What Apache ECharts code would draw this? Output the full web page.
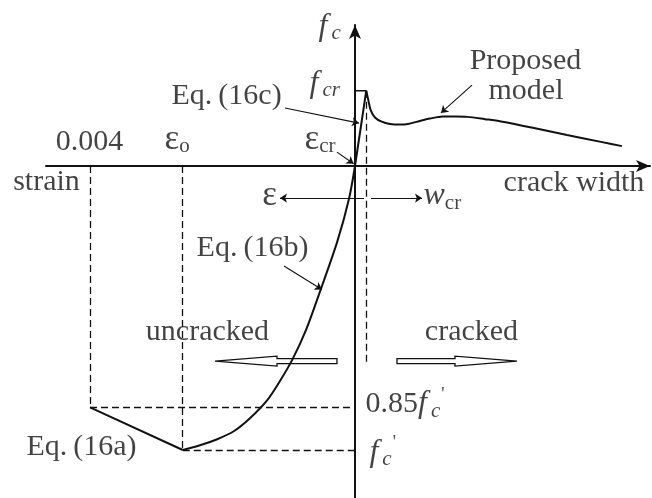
<!DOCTYPE html>
<html>
<head>
<meta charset="utf-8">
<script src="https://cdn.jsdelivr.net/npm/echarts@6/dist/echarts.min.js"></script>
<style>
  html, body { margin: 0; padding: 0; background: #fff; }
  #chart { width: 652px; height: 498px; }
</style>
</head>
<body>
<div id="chart"></div>
<script>
// Units: strain in per mille (compression to the left, negative),
// stress normalised by f'c (compression downward, negative).
const epsLimit = -4.0;      // 0.004
const eps0 = -2.6;          // εo, strain at peak compressive stress
const fcPeak = -1.0;        // f'c
const fcResidual = -0.85;   // 0.85 f'c
const epsCr = 0.17;         // εcr
const fCr = 0.265;          // fcr

// Eq. (16a): linear descending branch beyond εo
const eq16aX = [epsLimit, eps0];
const eq16aY = [fcResidual, fcPeak];

// Eq. (16b): ascending compression branch
const eq16bX = [-2.6, -2.34, -2.08, -1.83, -1.59, -1.33, -1.13, -0.94, -0.74, -0.53, -0.27, -0.09, 0];
const eq16bY = [-1.0, -0.983, -0.962, -0.934, -0.889, -0.826, -0.756, -0.679, -0.578, -0.443, -0.268, -0.115, 0];

// Eq. (16c): linear tension branch up to cracking
const eq16cX = [0, epsCr];
const eq16cY = [0, fCr];

// Proposed tension-softening model after cracking
const modelX = [0.17, 0.201, 0.237, 0.302, 0.403, 0.528, 0.679, 0.80, 0.951, 1.132, 1.328, 1.525, 1.691, 1.962, 2.204, 2.702, 3.2, 3.713, 4.03];
const modelY = [0.265, 0.232, 0.197, 0.171, 0.156, 0.148, 0.146, 0.148, 0.157, 0.167, 0.174, 0.174, 0.173, 0.165, 0.157, 0.134, 0.109, 0.085, 0.070];

// Dashed reference lines
const guideFrom = [[epsLimit, 0], [eps0, 0], [epsLimit, fcResidual], [eps0, fcPeak], [epsCr, fCr]];
const guideTo   = [[epsLimit, fcResidual], [eps0, fcPeak], [0, fcResidual], [0, fcPeak], [epsCr, -0.70]];

// Leader lines and direction arrows
const leaderFrom = [[-1.057, 0.204], [-0.272, 0.049], [-1.072, -0.352], [1.766, 0.285], [0.136, -0.113], [0.242, -0.113]];
const leaderTo   = [[0.060, 0.151], [-0.02, 0.008], [-0.50, -0.435], [1.298, 0.187], [-1.132, -0.113], [1.011, -0.113]];

// Hollow block arrows: [start x, y, tip x]
const blockArrows = [[-0.272, -0.687, -2.113], [0.634, -0.687, 2.445]];

// Annotation texts: [text, x, y, align]
const labelTexts = [
  ['{i|f}{isub|c}', -0.543, 0.490, 'left'],
  ['{i|f}{isub|cr}', -0.679, 0.289, 'left'],
  ['{r|Eq.}{p|(16c)}', -2.762, 0.246, 'left'],
  ['{e|ε}{sub|cr}', -0.755, 0.092, 'left'],
  ['{r|0.004}', -4.0, 0.081, 'center'],
  ['{e|ε}{sub|o}', -2.868, 0.092, 'left'],
  ['{r|strain}', -4.649, -0.060, 'center'],
  ['{r|crack width}', 3.313, -0.063, 'center'],
  ['{e|ε}', -1.283, -0.106, 'center'],
  ['{i|w}{sub|cr}', 1.042, -0.106, 'left'],
  ['{r|Eq.}{p|(16b)}', -1.540, -0.292, 'center'],
  ['{r|uncracked}', -2.219, -0.588, 'center'],
  ['{r|cracked}', 1.766, -0.588, 'center'],
  ['{r|0.85}{i|f}{isub|c}{sup|\'}', 0.166, -0.84, 'left'],
  ['{i|f}{isub|c}{sup|\'}', 0.226, -1.01, 'left'],
  ['{r|Proposed}', 2.581, 0.366, 'center'],
  ['{r|model}', 2.589, 0.261, 'center'],
  ['{r|Eq.}{p|(16a)}', -4.121, -0.993, 'center']
];

const ink = '#111';
const textInk = '#141414';
const serif = "'Liberation Serif', 'Times New Roman', serif";
const zip = (xs, ys) => xs.map((x, i) => [x, ys[i]]);

const rich = {
  r:    { fontFamily: serif, fontSize: 30, lineHeight: 36, color: textInk },
  p:    { fontFamily: serif, fontSize: 30, lineHeight: 36, color: textInk, padding: [0, 0, 0, 6] },
  e:    { fontFamily: serif, fontSize: 35, lineHeight: 36, color: textInk },
  i:    { fontFamily: serif, fontSize: 32, lineHeight: 36, fontStyle: 'italic', color: textInk },
  sub:  { fontFamily: serif, fontSize: 21, lineHeight: 20, verticalAlign: 'bottom', color: textInk },
  isub: { fontFamily: serif, fontSize: 21, lineHeight: 20, verticalAlign: 'bottom', fontStyle: 'italic', color: textInk, padding: [0, 0, 0, 4] },
  sup:  { fontFamily: serif, fontSize: 18, lineHeight: 20, verticalAlign: 'top', color: textInk, padding: [0, 0, 0, 1] }
};

const curve = (name, xs, ys, smooth, z) => ({
  name, type: 'line', data: zip(xs, ys), smooth,
  symbol: 'none', lineStyle: { color: ink, width: 2 }, z, silent: true
});

const chart = echarts.init(document.getElementById('chart'), null, { renderer: 'canvas' });
chart.setOption({
  animation: false,
  backgroundColor: '#fff',
  grid: { left: 46, right: 2, top: 25, bottom: 0, containLabel: false },
  xAxis: {
    type: 'value', min: -4.664, max: 4.453,
    axisLine: { onZero: true, symbol: ['none', 'arrow'], symbolSize: [9, 14],
                lineStyle: { color: ink, width: 2 } },
    axisTick: { show: false }, axisLabel: { show: false }, splitLine: { show: false }
  },
  yAxis: {
    type: 'value', min: -1.169, max: 0.4965,
    axisLine: { onZero: true, symbol: ['none', 'arrow'], symbolSize: [9, 14],
                lineStyle: { color: ink, width: 2 } },
    axisTick: { show: false }, axisLabel: { show: false }, splitLine: { show: false }
  },
  series: [
    {
      name: 'guides', type: 'lines', coordinateSystem: 'cartesian2d', silent: true, z: 2,
      data: guideFrom.map((p, i) => ({ coords: [p, guideTo[i]] })),
      symbol: 'none',
      lineStyle: { color: ink, width: 1.3, type: [7, 4], opacity: 1 }
    },
    {
      name: 'block arrows', type: 'custom', silent: true, z: 3,
      data: blockArrows,
      encode: { x: [0, 2], y: 1 },
      renderItem: function (params, api) {
        const p0 = api.coord([api.value(0), api.value(1)]);
        const p1 = api.coord([api.value(2), api.value(1)]);
        const dir = Math.sign(p1[0] - p0[0]);
        const headLen = 62, headHalf = 5, shaftHalf = 2.5;
        const hb = p1[0] - dir * headLen;
        const cy = p0[1];
        return {
          type: 'polygon',
          shape: { points: [
            [p0[0], cy - shaftHalf], [hb, cy - shaftHalf], [hb, cy - headHalf],
            [p1[0], cy], [hb, cy + headHalf], [hb, cy + shaftHalf], [p0[0], cy + shaftHalf]
          ] },
          style: { fill: '#fff', stroke: ink, lineWidth: 1.3 }
        };
      }
    },
    curve('Eq. (16a)', eq16aX, eq16aY, false, 5),
    curve('Eq. (16b)', eq16bX, eq16bY, 0.3, 5),
    curve('Eq. (16c)', eq16cX, eq16cY, false, 5),
    curve('Proposed model', modelX, modelY, 0.3, 5),
    {
      name: 'fcr', type: 'line', silent: true, z: 4, symbol: 'none',
      data: [[0, fCr], [epsCr, fCr]],
      lineStyle: { color: ink, width: 1.3 }
    },
    {
      name: 'leaders', type: 'lines', coordinateSystem: 'cartesian2d', silent: true, z: 6,
      data: leaderFrom.map((p, i) => ({ coords: [p, leaderTo[i]] })),
      symbol: ['none', 'arrow'], symbolSize: 7,
      lineStyle: { color: ink, width: 1.1, opacity: 1 }
    },
    {
      name: 'annotations', type: 'scatter', silent: true, z: 10,
      symbolSize: 1, itemStyle: { color: 'rgba(0,0,0,0)' },
      data: labelTexts.map(t => ({
        value: [t[1], t[2]],
        label: { show: true, formatter: t[0], position: [0, 0], align: t[3], verticalAlign: 'middle', rich }
      }))
    }
  ]
});
</script>
</body>
</html>
